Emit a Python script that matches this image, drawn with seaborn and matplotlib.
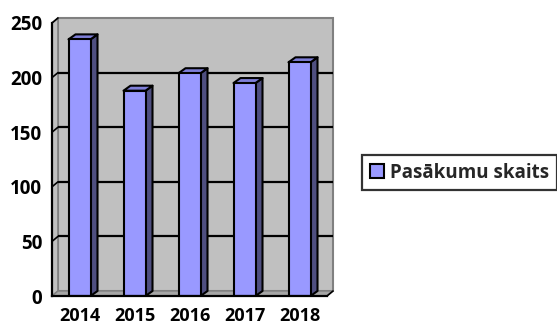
import matplotlib
matplotlib.use("Agg")
import matplotlib.pyplot as plt
from matplotlib.patches import Polygon, Rectangle, Patch
import seaborn as sns
import pandas as pd

# Data
years = ["2014", "2015", "2016", "2017", "2018"]
events = [235, 188, 204, 195, 214]
series_name = "Pasākumu skaits"
y_ticks = [0, 50, 100, 150, 200, 250]

df = pd.DataFrame({"Gads": years, "Skaits": events})

sns.set_style("white")
plt.rcParams["font.family"] = ["Open Sans", "DejaVu Sans"]

W, H, DPI = 557, 331, 100
fig = plt.figure(figsize=(W / DPI, H / DPI), dpi=DPI)
fig.patch.set_facecolor("white")

# axes box in pixels (front plane)
left_px, right_px, top_px, bot_px = 52, 327, 23, 296
ax = fig.add_axes([left_px / W, (H - bot_px) / H,
                   (right_px - left_px) / W, (bot_px - top_px) / H])
ax.set_facecolor("none")

ymax = 250
ax.set_xlim(-0.5, len(years) - 0.5)
ax.set_ylim(0, ymax)

# pixel -> data conversion for the 3D depth offset
px_x = (right_px - left_px) / len(years)
px_y = (bot_px - top_px) / ymax
wall_dx, wall_dy = 6 / px_x, 5 / px_y
bar_dx, bar_dy = 7 / px_x, 5 / px_y

FRONT = "#9999FF"
SIDE = "#4F4F80"
TOP = "#7F7FD8"
WALL = "#C0C0C0"
FLOOR = "#A6A6A6"

x0, x1 = -0.5, len(years) - 0.5

# back wall
ax.add_patch(Rectangle((x0 + wall_dx, wall_dy), x1 - x0, ymax,
                       facecolor=WALL, edgecolor="#808080", lw=1.5,
                       zorder=0.5, clip_on=False))
# left side wall
ax.add_patch(Polygon([(x0, 0), (x0 + wall_dx, wall_dy),
                      (x0 + wall_dx, ymax + wall_dy), (x0, ymax)],
                     closed=True, facecolor=WALL, edgecolor="#808080",
                     lw=1.2, zorder=0.6, clip_on=False))
# floor
ax.add_patch(Polygon([(x0, 0), (x0 + wall_dx, wall_dy),
                      (x1 + wall_dx, wall_dy), (x1, 0)],
                     closed=True, facecolor=FLOOR, edgecolor="#808080",
                     lw=1.0, zorder=0.7, clip_on=False))

# gridlines on the back wall and the side wall
for v in y_ticks[1:-1]:
    ax.plot([x0 + wall_dx, x1 + wall_dx], [v + wall_dy, v + wall_dy],
            color="black", lw=1.6, zorder=0.9, clip_on=False,
            solid_capstyle="butt")
for v in y_ticks[1:]:
    ax.plot([x0, x0 + wall_dx], [v, v + wall_dy], color="black", lw=1.2,
            zorder=0.9, clip_on=False)
# right end of the floor
ax.plot([x1, x1 + wall_dx], [0, wall_dy], color="black", lw=1.2,
        zorder=4, clip_on=False)

# front faces of the columns
sns.barplot(data=df, x="Gads", y="Skaits", color=FRONT, width=0.4,
            saturation=1, edgecolor="black", linewidth=1.5, ax=ax,
            zorder=3)

# side and top faces from each drawn bar
for bar in list(ax.patches):
    if not isinstance(bar, Rectangle):
        continue
    bx, bw, bh = bar.get_x(), bar.get_width(), bar.get_height()
    if bw > 1:
        continue
    ax.add_patch(Polygon([(bx + bw, 0), (bx + bw + bar_dx, bar_dy),
                          (bx + bw + bar_dx, bh + bar_dy), (bx + bw, bh)],
                         closed=True, facecolor=SIDE, edgecolor="black",
                         lw=1.5, zorder=2.9, clip_on=False,
                         joinstyle="round"))
    ax.add_patch(Polygon([(bx, bh), (bx + bar_dx, bh + bar_dy),
                          (bx + bw + bar_dx, bh + bar_dy), (bx + bw, bh)],
                         closed=True, facecolor=TOP, edgecolor="black",
                         lw=1.5, zorder=2.9, clip_on=False,
                         joinstyle="round"))

# axes lines and ticks
for s in ["top", "right"]:
    ax.spines[s].set_visible(False)
for s in ["left", "bottom"]:
    ax.spines[s].set_color("black")
    ax.spines[s].set_linewidth(1.6)
    ax.spines[s].set_zorder(5)

ax.set_yticks(y_ticks)
ax.set_yticklabels([str(t) for t in y_ticks])
ax.set_xticks(range(len(years)))
ax.set_xticklabels(years)
ax.set_xticks([i - 0.5 for i in range(len(years) + 1)], minor=True)
ax.tick_params(axis="y", which="major", direction="out", length=5,
               width=1.5, color="black", pad=2, labelsize=13.5)
ax.tick_params(axis="x", which="major", length=0, pad=8, labelsize=13)
ax.tick_params(axis="x", which="minor", direction="out", length=6,
               width=1.5, color="black")
for lab in ax.get_xticklabels() + ax.get_yticklabels():
    lab.set_fontweight("bold")
    lab.set_color("black")
ax.set_xlabel("")
ax.set_ylabel("")

# legend
handle = Patch(facecolor=FRONT, edgecolor="black", linewidth=1.5,
               label=series_name)
leg = fig.legend(handles=[handle], loc="center left",
                 bbox_to_anchor=(362 / W, (H - 172.5) / H),
                 frameon=True, fancybox=False,
                 prop={"weight": "bold", "size": 13.5},
                 handlelength=0.75, handleheight=0.75, handletextpad=0.35,
                 borderpad=0.4, borderaxespad=0)
leg.get_frame().set_edgecolor("black")
leg.get_frame().set_linewidth(1.6)

fig.savefig("out.png", dpi=DPI)
